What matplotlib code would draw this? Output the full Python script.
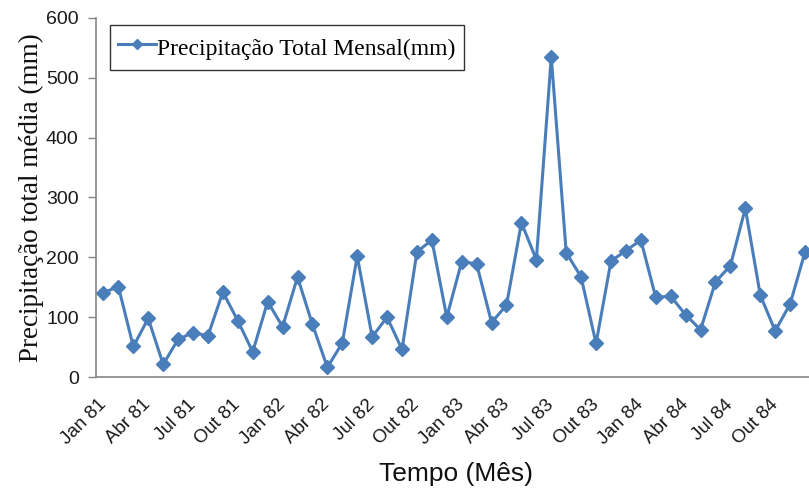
import matplotlib
matplotlib.use("Agg")
import matplotlib.pyplot as plt
import numpy as np

# Monthly total precipitation, Jan 1981 - Dec 1984 (mm)
months = ["Jan", "Fev", "Mar", "Abr", "Mai", "Jun", "Jul", "Ago", "Set", "Out", "Nov", "Dez"]
years = ["81", "82", "83", "84"]
labels = [f"{m} {y}" for y in years for m in months]

precip_1981 = [141, 151, 51, 98, 21, 63, 74, 69, 142, 94, 42, 126]
precip_1982 = [84, 167, 88, 16, 57, 202, 67, 100, 46, 209, 229, 100]
precip_1983 = [193, 189, 91, 120, 258, 196, 535, 208, 167, 56, 194, 211]
precip_1984 = [229, 133, 135, 104, 79, 159, 186, 282, 137, 77, 122, 209]
precip = precip_1981 + precip_1982 + precip_1983 + precip_1984

W, H = 809, 493
fig = plt.figure(figsize=(W / 100, H / 100), dpi=100)
ax = fig.add_axes([96 / W, (H - 377) / H, (812.5 - 96) / W, 359 / H])

blue = "#4A7EBB"
x = np.arange(len(precip))
ax.plot(x, precip, color=blue, linewidth=2.2, marker="D", markersize=7,
        markerfacecolor=blue, markeredgecolor=blue,
        label="Precipitação Total Mensal(mm)", clip_on=False)

ax.set_xlim(-0.5, len(precip) - 0.5)
ax.set_ylim(0, 600)
ax.set_yticks(range(0, 601, 100))

sans = ["Liberation Sans", "DejaVu Sans"]
tick_idx = x[::3]
ax.set_xticks(tick_idx)
ax.set_xticklabels([labels[i] for i in tick_idx], rotation=45, ha="right", va="center",
                   rotation_mode="anchor", fontfamily=sans, fontsize=13.5)
for lbl in ax.get_yticklabels():
    lbl.set_fontfamily(sans)
    lbl.set_fontsize(14)

ax.tick_params(axis="x", length=0, pad=18, colors="#1a1a1a")
ax.tick_params(axis="y", length=6, width=1, direction="out", color="#868686",
               labelcolor="#1a1a1a", pad=6.5)

for side in ("top", "right"):
    ax.spines[side].set_visible(False)
for side in ("left", "bottom"):
    ax.spines[side].set_color("#868686")
    ax.spines[side].set_linewidth(1.2)

ax.set_ylabel("Precipitação total média (mm)", fontfamily="Liberation Serif",
              fontsize=19.5, color="#111111")
ax.yaxis.set_label_coords(-0.072, 0.5)
ax.set_xlabel("Tempo (Mês)", fontfamily=sans, fontsize=19, color="#111111")
ax.xaxis.set_label_coords(0.502, -0.237)

leg = ax.legend(loc="upper left", bbox_to_anchor=(14 / 716.5, 1 - 7 / 359),
                borderaxespad=0,
                prop={"family": "Liberation Serif", "size": 17},
                frameon=True, fancybox=False, edgecolor="#000000",
                handlelength=1.6, handleheight=1.5, handletextpad=0.05,
                borderpad=0.35, markerscale=0.75)
leg.get_frame().set_linewidth(1.0)

fig.savefig("out.png", dpi=100)
